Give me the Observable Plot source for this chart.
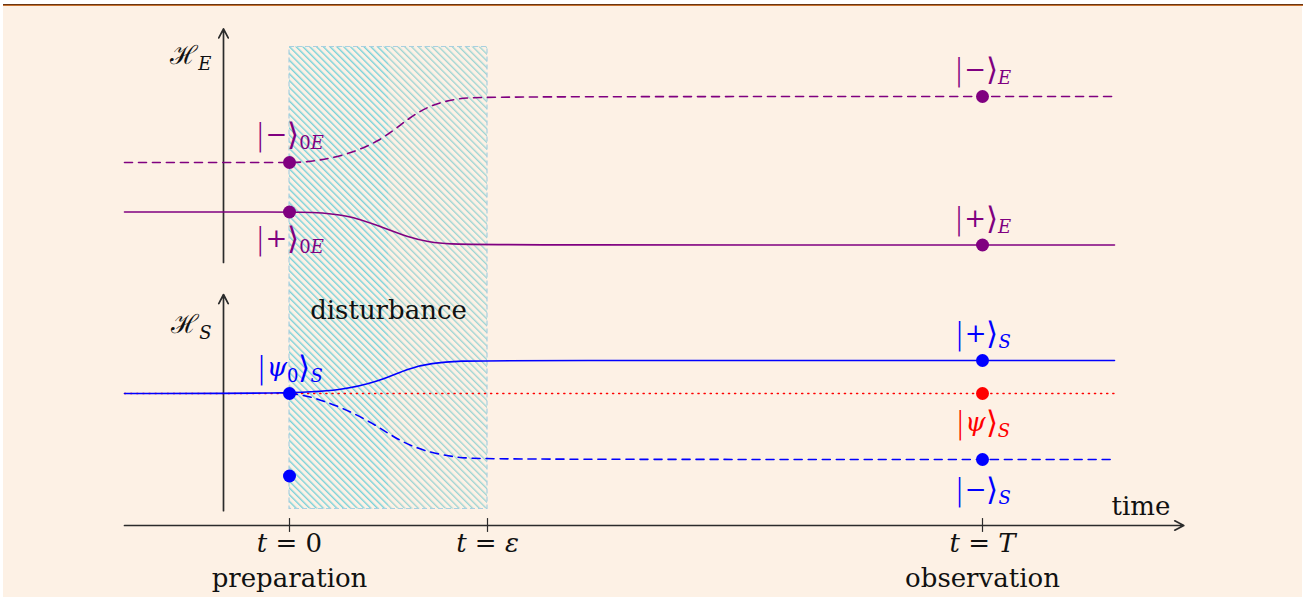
<!DOCTYPE html>
<html>
<head>
<meta charset="utf-8">
<script src="https://cdn.jsdelivr.net/npm/d3@7"></script>
<script src="https://cdn.jsdelivr.net/npm/@observablehq/plot@0.6"></script>
<style>
  html, body { margin: 0; padding: 0; background: #ffffff; overflow: hidden; }
  #chart svg { display: block; }
</style>
</head>
<body>
<div id="chart"></div>
<script>
// ---- data (diagram units; 1 unit on both axes) ----
const instants = [0, 6, 21];                       // t = 0, t = ε, t = T
const instantLabels = ["$t = 0", "$t = ε", "$t = T"];
const phaseLabels = ["preparation", "observation"];
const phaseX = [0, 21];

// environment branches
const envMinus = [[-5, 11], [0, 11], [0.42, 11.0], [1.55, 11.16], [2.76, 11.64], [3.58, 12.33], [4.3, 12.76], [5.12, 12.95], [6, 13], [25, 13]];
const envPlus  = [[-5, 9.5], [0, 9.5], [0.6, 9.5], [1.76, 9.42], [2.76, 9.06], [3.58, 8.74], [4.27, 8.58], [4.8, 8.53], [6, 8.5], [25, 8.5]];
// system branches
const sysPlus  = [[-5, 4], [0, 4], [1.55, 4.09], [2.76, 4.38], [3.58, 4.76], [4.27, 4.92], [5.27, 4.99], [6, 5], [25, 5]];
const sysMinus = [[0, 4], [0.55, 3.94], [1.55, 3.6], [2.55, 3.09], [3.27, 2.6], [4.06, 2.25], [5.09, 2.05], [6, 2], [25, 2]];
const sysPsi   = [[-5, 4], [25, 4]];

// state dots
const envDots = [[0, 11], [0, 9.5], [21, 13], [21, 8.5]];
const sysDots = [[0, 4], [0, 1.5], [21, 5], [21, 2]];
const psiDot  = [[21, 4]];

// state labels
const envLabels = [
  {x: 0, y: 11.85, t: "$|−⟩_{0E}"},
  {x: 0, y: 8.7,  t: "$|+⟩_{0E}"},
  {x: 21, y: 13.8, t: "$|−⟩_{E}"},
  {x: 21, y: 9.3,  t: "$|+⟩_{E}"}
];
const sysLabels = [
  {x: 0, y: 4.78, t: "$|ψ_{0}⟩_{S}"},
  {x: 21, y: 5.8,  t: "$|+⟩_{S}"},
  {x: 21, y: 1.1,  t: "$|−⟩_{S}"}
];
const psiLabels = [{x: 21, y: 3.12, t: "$|ψ⟩_{S}"}];
const spaceLabels = [{x: -2, y: 14.25, t: "$ℋ_{E}"}, {x: -2, y: 6.1, t: "$ℋ_{S}"}];
const otherLabels = [{x: 3, y: 6.5, t: "disturbance"}, {x: 25.8, y: 0.58, t: "time"}];

// axes
const timeAxis = [{x1: -5, y1: 0, x2: 27.1, y2: 0}];
const spaceAxes = [{x1: -2, y1: 7.97, x2: -2, y2: 15.05}, {x1: -2, y1: 0.45, x2: -2, y2: 7.0}];
const disturbance = [{x1: 0, x2: 3, y1: 0.5, y2: 14.5, f: "url(#hatchA)"}, {x1: 3, x2: 6, y1: 0.5, y2: 14.5, f: "url(#hatchB)"}];
const disturbanceFrame = [{x1: 0, x2: 6, y1: 0.5, y2: 14.5}];

const PURPLE = "#800080", BLUE = "#0000ff", RED = "#ff0000", INK = "#2b2b2b";
const FONT = "DejaVu Serif";

const txt = (data, fill, extra = {}) => Plot.text(data, {x: "x", y: "y", text: "t", fill, fontSize: 26, fontFamily: FONT, ...extra});

const plot = Plot.plot({
  width: 1311,
  height: 597,
  margin: 0,
  x: {type: "linear", domain: [-8, 30], range: [25, 1279], axis: null},
  y: {type: "linear", domain: [-2, 15], range: [591, 30], axis: null},
  style: {
    background: "linear-gradient(#6a3512,#6a3512) 3px 4px / 1300px 1px no-repeat, linear-gradient(#c7722f,#c7722f) 3px 5px / 1300px 1px no-repeat, linear-gradient(#fdf1e5,#fdf1e5) 3px 6px / 1299px 591px no-repeat, #ffffff",
    overflow: "visible"
  },
  marks: [
    Plot.rect(disturbance, {x1: "x1", x2: "x2", y1: "y1", y2: "y2", fill: d => d.f}),
    Plot.rect(disturbanceFrame, {x1: "x1", x2: "x2", y1: "y1", y2: "y2", fill: "none", stroke: "#a9cfe0", strokeWidth: 1.2, strokeDasharray: "5,3"}),
    // axes
    Plot.arrow(timeAxis, {x1: "x1", y1: "y1", x2: "x2", y2: "y2", stroke: INK, strokeWidth: 1.7, headLength: 9, headAngle: 55}),
    Plot.arrow(spaceAxes, {x1: "x1", y1: "y1", x2: "x2", y2: "y2", stroke: INK, strokeWidth: 1.7, headLength: 9, headAngle: 55}),
    Plot.ruleX(instants, {x: d => d, y1: -0.21, y2: 0.21, stroke: INK, strokeWidth: 1.2}),
    // red dotted reference
    Plot.line(sysPsi, {x: d => d[0], y: d => d[1], stroke: RED, strokeWidth: 1.3, strokeDasharray: "1.3,4.8", strokeLinecap: "round"}),
    // branches
    Plot.line(envMinus, {x: d => d[0], y: d => d[1], stroke: PURPLE, strokeWidth: 1.6, strokeDasharray: "8,6", curve: "basis"}),
    Plot.line(envPlus, {x: d => d[0], y: d => d[1], stroke: PURPLE, strokeWidth: 1.6, curve: "basis"}),
    Plot.line(sysMinus, {x: d => d[0], y: d => d[1], stroke: BLUE, strokeWidth: 1.6, strokeDasharray: "8,6", curve: "basis"}),
    Plot.line(sysPlus, {x: d => d[0], y: d => d[1], stroke: BLUE, strokeWidth: 1.6, curve: "basis"}),
    // dots
    Plot.dot(envDots, {x: d => d[0], y: d => d[1], r: 6.5, fill: PURPLE}),
    Plot.dot(sysDots, {x: d => d[0], y: d => d[1], r: 6.5, fill: BLUE}),
    Plot.dot(psiDot, {x: d => d[0], y: d => d[1], r: 6.5, fill: RED}),
    // labels
    txt(envLabels, PURPLE),
    txt(sysLabels, BLUE),
    txt(psiLabels, RED),
    txt(spaceLabels, "#111", {textAnchor: "end", dx: -12}),
    txt(otherLabels, "#111"),
    Plot.text(instants, {x: d => d, y: -0.55, text: (d, i) => instantLabels[i], fill: "#111", fontSize: 26, fontFamily: FONT}),
    Plot.text(phaseX, {x: d => d, y: -1.62, text: (d, i) => phaseLabels[i], fill: "#111", fontSize: 26, fontFamily: FONT})
  ]
});

// hatch patterns
const defs = d3.select(plot).insert("defs", ":first-child");
function hatch(id, color, sw) {
  const p = defs.append("pattern").attr("id", id).attr("patternUnits", "userSpaceOnUse")
    .attr("width", 8).attr("height", 4.8).attr("patternTransform", "rotate(45)");
  p.append("line").attr("x1", -1).attr("y1", 1.2).attr("x2", 9).attr("y2", 1.2)
    .attr("stroke", color).attr("stroke-width", sw);
}
hatch("hatchA", "#6fd0d8", 1.3);
hatch("hatchB", "#8fd0d0", 1.2);

// math-style text: italic letters, subscripts, tall thin delimiters
const MAIN = 26, SUB = 18, SHIFT = 6, DELIM = 31;
d3.select(plot).selectAll("text").each(function () {
  const raw = this.textContent;
  if (!raw.startsWith("$")) return;
  const str = raw.slice(1);
  const segs = [];
  let i = 0;
  while (i < str.length) {
    if (str.startsWith("_{", i)) {
      const j = str.indexOf("}", i);
      segs.push({t: str.slice(i + 2, j), sub: true});
      i = j + 1;
    } else {
      let j = str.indexOf("_{", i);
      if (j < 0) j = str.length;
      segs.push({t: str.slice(i, j), sub: false});
      i = j;
    }
  }
  const el = d3.select(this);
  el.text("");
  let cur = 0;
  const kind = c => /[A-Za-zα-ωΑ-Ω]/.test(c) ? "it" : /[|⟩]/.test(c) ? "delim" : "up";
  for (const s of segs) {
    const runs = [];
    for (const c of s.t) {
      const k = kind(c);
      if (runs.length && runs[runs.length - 1].k === k) runs[runs.length - 1].t += c;
      else runs.push({t: c, k});
    }
    for (const r of runs) {
      const target = s.sub ? SHIFT : (r.k === "delim" ? 2 : 0);
      const size = s.sub ? SUB : (r.k === "delim" ? DELIM : MAIN);
      const ts = el.append("tspan").text(r.t)
        .attr("font-size", size)
        .attr("font-style", r.k === "it" ? "italic" : "normal");
      if (r.k === "delim") ts.attr("font-family", "'DejaVu Sans ExtraLight', 'DejaVu Sans Light', 'DejaVu Sans'").attr("font-weight", 200);
      if (target !== cur) { ts.attr("dy", target - cur); cur = target; }
    }
  }
});

document.getElementById("chart").appendChild(plot);
</script>
</body>
</html>
